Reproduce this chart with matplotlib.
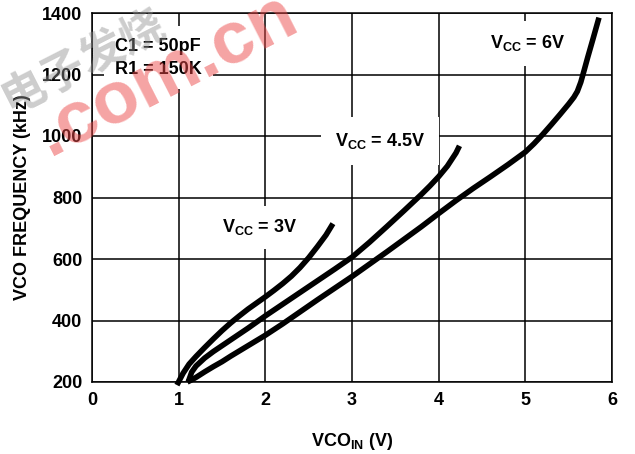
import numpy as np
import matplotlib
matplotlib.use('Agg')
import matplotlib.pyplot as plt

plt.rcParams['font.family'] = ['Liberation Sans', 'DejaVu Sans']
plt.rcParams['font.weight'] = 'bold'
plt.rcParams['axes.labelweight'] = 'bold'
plt.rcParams['mathtext.fontset'] = 'custom'
plt.rcParams['mathtext.rm'] = 'Liberation Sans:bold'
plt.rcParams['mathtext.bf'] = 'Liberation Sans:bold'

# curves (VCO_IN in V, frequency in kHz)
v3_x = [0.98, 1.05, 1.12, 1.2, 1.3, 1.4, 1.5, 1.6, 1.7, 1.8, 1.9, 2.0,
        2.1, 2.2, 2.3, 2.4, 2.5, 2.6, 2.7, 2.78]
v3_y = [190, 228, 258, 283, 312, 340, 367, 392, 415, 437, 457, 477,
        498, 520, 544, 572, 604, 640, 678, 715]

v45_x = [1.11, 1.15, 1.2, 1.3, 1.4, 1.5, 1.6, 1.7, 1.8, 1.9, 2.0, 2.2, 2.4, 2.6, 2.8,
         3.0, 3.2, 3.4, 3.6, 3.8, 3.9, 4.0, 4.1, 4.2, 4.24]
v45_y = [200, 232, 252, 278, 299, 318, 337, 356, 375, 395, 415, 453, 491, 529, 567,
         606, 654, 705, 757, 810, 838, 868, 902, 945, 968]

v6_x = [1.1, 1.15, 1.2, 1.3, 1.4, 1.5, 1.6, 1.7, 1.8, 1.9, 2.0, 2.2, 2.4, 2.6, 2.8,
        3.0, 3.2, 3.4, 3.6, 3.8, 4.0, 4.2, 4.4, 4.6, 4.8, 5.0, 5.1, 5.2, 5.3, 5.4,
        5.5, 5.56, 5.6, 5.64, 5.68, 5.72, 5.78, 5.85]
v6_y = [200, 207, 215, 233, 250, 266, 284, 301, 318, 335, 352, 389, 428, 467, 505,
        543, 583, 623, 664, 705, 748, 790, 830, 868, 907, 948, 975, 1005, 1037, 1070,
        1104, 1126, 1145, 1175, 1215, 1256, 1315, 1385]

x_ticks = [0, 1, 2, 3, 4, 5, 6]
y_ticks = [200, 400, 600, 800, 1000, 1200, 1400]

fig = plt.figure(figsize=(6.35, 4.54), dpi=100)
ax = fig.add_axes([92 / 635, 1 - 382 / 454, 520 / 635, 369 / 454])

ax.set_xlim(0, 6)
ax.set_ylim(200, 1400)
ax.set_xticks(x_ticks)
ax.set_yticks(y_ticks)
ax.tick_params(length=0, labelsize=13, pad=7)
ax.grid(True, color='black', linewidth=1.1)
for s in ax.spines.values():
    s.set_linewidth(1.1)

for xs, ys in [(v3_x, v3_y), (v45_x, v45_y), (v6_x, v6_y)]:
    ax.plot(xs, ys, color='black', linewidth=4, solid_capstyle='butt',
            solid_joinstyle='round', clip_on=False, zorder=3)

ax.text(0.265, 1255, 'C1 = 50pF\nR1 = 150K', fontsize=13, ha='left', va='center',
        linespacing=1.45, bbox=dict(facecolor='white', edgecolor='none', pad=8), zorder=4)
ax.text(4.59, 1302, r'V$_{\mathbf{CC}}$ = 6V', fontsize=13, ha='left', va='center',
        bbox=dict(facecolor='white', edgecolor='none', pad=9), zorder=4)
ax.text(2.8, 985, r'V$_{\mathbf{CC}}$ = 4.5V', fontsize=13, ha='left', va='center',
        bbox=dict(facecolor='white', edgecolor='none', pad=10), zorder=4)
ax.text(1.5, 703, r'V$_{\mathbf{CC}}$ = 3V', fontsize=13, ha='left', va='center',
        bbox=dict(facecolor='white', edgecolor='none', pad=8), zorder=4)

ax.set_ylabel('VCO FREQUENCY (kHz)', fontsize=13, labelpad=8)
ax.set_xlabel(r'VCO$_{\mathbf{IN}}$ (V)', fontsize=13, labelpad=16)

# watermark
fig.text(0.078, 0.655, '.com.cn', fontsize=54, color='#ec4848', alpha=0.5, rotation=27,
         rotation_mode='anchor', ha='left', va='baseline', zorder=10)
fig.text(0.014, 0.75, '电子发烧', fontsize=32, color='#909090', alpha=0.45, rotation=27,
         rotation_mode='anchor', family=['Noto Sans CJK SC', 'DejaVu Sans'],
         ha='left', va='baseline', zorder=10)

fig.savefig('out.png', dpi=100)
